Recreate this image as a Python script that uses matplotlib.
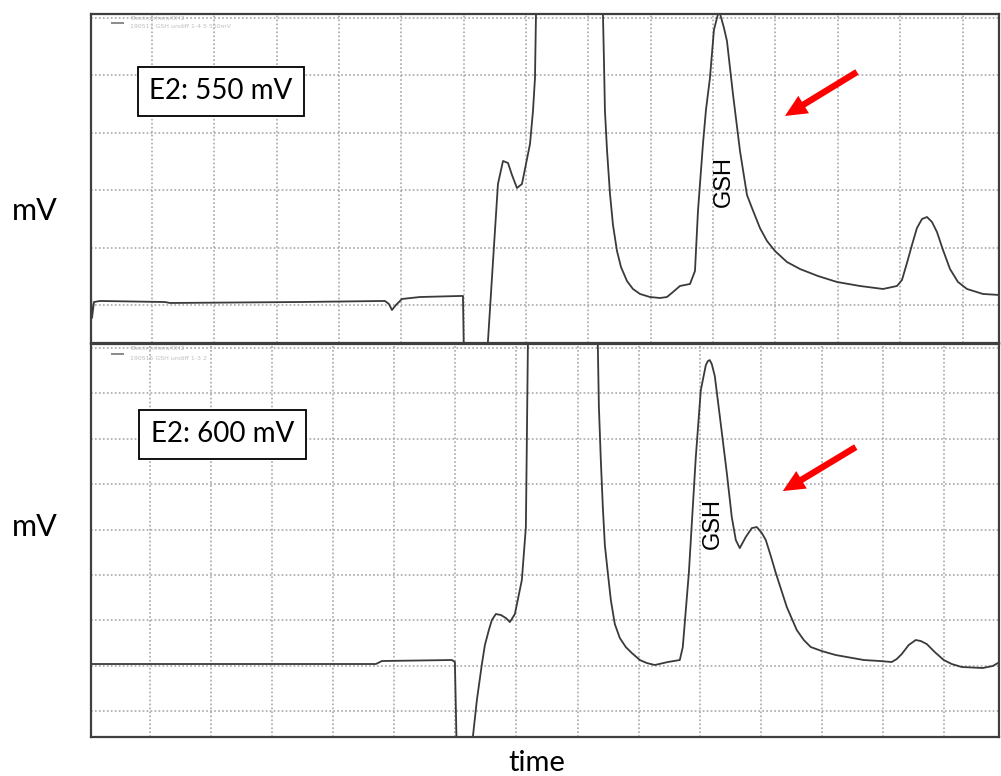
import matplotlib
matplotlib.use("Agg")
import matplotlib.pyplot as plt
from matplotlib.ticker import MultipleLocator

# ---- Chromatogram traces (time in grid divisions, signal in grid divisions) ----
time_550 = [0.022, 0.038, 0.070, 0.166, 1.208, 1.289, 3.374, 4.737, 4.801, 4.849,
            4.913, 5.010, 5.298, 5.940, 5.988, 6.004, 6.373, 6.389, 6.469, 6.549,
            6.630, 6.710, 6.774, 6.854, 6.934, 7.063, 7.111, 7.143, 7.159, 7.175,
            8.217, 8.233, 8.249, 8.265, 8.298, 8.346, 8.394, 8.458, 8.522, 8.618,
            8.714, 8.827, 8.987, 9.148, 9.260, 9.356, 9.468, 9.629, 9.709, 9.757,
            9.837, 9.885, 9.949, 10.013, 10.094, 10.174, 10.222, 10.318, 10.431,
            10.543, 10.623, 10.751, 10.864, 10.992, 11.184, 11.393, 11.681, 11.986,
            12.355, 12.724, 12.949, 13.029, 13.109, 13.189, 13.269, 13.350, 13.430,
            13.510, 13.590, 13.687, 13.799, 13.927, 14.071, 14.328, 14.600]
signal_550 = [0.157, -0.226, 0.052, 0.070, 0.052, 0.035, 0.052, 0.070, 0.017, -0.087,
              0.000, 0.105, 0.139, 0.157, 0.157, -0.958, -0.958, -0.627, 0.749, 2.108,
              2.509, 2.474, 2.265, 2.038, 2.108, 2.805, 3.380, 3.955, 5.070, 5.662,
              5.662, 5.070, 4.268, 3.380, 2.700, 1.934, 1.394, 0.941, 0.662, 0.418,
              0.279, 0.192, 0.139, 0.122, 0.139, 0.226, 0.331, 0.366, 0.592, 1.638,
              2.805, 3.397, 3.955, 4.791, 5.139, 4.826, 4.599, 3.676, 2.683,
              1.916, 1.690, 1.341, 1.115, 0.941, 0.749, 0.627, 0.505, 0.401,
              0.331, 0.279, 0.331, 0.436, 0.732, 1.045, 1.341, 1.498, 1.533,
              1.446, 1.272, 0.958, 0.627, 0.401, 0.279, 0.192, 0.174]

time_600 = [0.034, 4.699, 4.797, 5.943, 5.992, 6.025, 6.254, 6.286, 6.352, 6.434,
            6.483, 6.548, 6.597, 6.663, 6.745, 6.826, 6.892, 6.974, 7.088, 7.154,
            7.170, 7.187, 7.195, 8.324, 8.332, 8.349, 8.381, 8.414, 8.447, 8.496,
            8.545, 8.610, 8.692, 8.790, 8.889, 9.020, 9.134, 9.265, 9.478, 9.674,
            9.723, 9.822, 9.936, 10.018, 10.100, 10.133, 10.165, 10.198, 10.247,
            10.329, 10.444, 10.525, 10.591, 10.656, 10.754, 10.853, 10.935, 11.017,
            11.082, 11.164, 11.246, 11.426, 11.589, 11.704, 11.818, 11.998, 12.227,
            12.686, 12.948, 13.144, 13.226, 13.308, 13.422, 13.537, 13.619, 13.717,
            13.848, 13.995, 14.126, 14.290, 14.633, 14.797, 14.911]
signal_600 = [1.036, 1.036, 1.102, 1.124, 1.080, -1.080, -1.080, -0.573, 0.242, 1.036,
              1.455, 1.785, 2.006, 2.138, 2.116, 2.050, 1.961, 2.138, 2.887, 4.055,
              5.972, 8.066, 8.617, 8.617, 8.066, 6.722, 5.532, 4.496, 3.658, 3.041,
              2.446, 1.917, 1.609, 1.410, 1.278, 1.124, 1.058, 1.014, 1.080, 1.124,
              1.410, 3.041, 5.598, 7.074, 7.625, 7.714, 7.736, 7.647, 7.383,
              6.501, 5.245, 4.275, 3.769, 3.592, 3.835, 4.033, 4.055, 3.923,
              3.769, 3.416, 3.041, 2.292, 1.785, 1.565, 1.410, 1.322, 1.234,
              1.124, 1.102, 1.080, 1.146, 1.256, 1.455, 1.565, 1.543, 1.477,
              1.300, 1.124, 1.036, 0.970, 0.948, 0.992, 1.080]

panel_labels = ["E2: 550 mV", "E2: 600 mV"]
legend_lines = [["Electrochem/CH2", "190517 GSH undiff 1-4 5 550mV"],
                ["Electrochem/CH2", "190515 GSH undiff 1-3 2"]]
peak_name = "GSH"
peak_pos = [(10.174, 2.160), (10.214, 4.143)]
arrow_tail = [(12.307, 4.059), (12.555, 5.818)]
arrow_tip = [(11.152, 3.293), (11.360, 4.848)]

TRACE = "#3a3a3a"
FRAME = "#3f3f3f"
GRID = "#a0a0a0"

fig = plt.figure(figsize=(10.01, 7.76), dpi=100)
fig.patch.set_facecolor("white")

ax_top = fig.add_axes([0.0909, 0.5580, 0.9071, 0.4240])
ax_bot = fig.add_axes([0.0909, 0.05026, 0.9071, 0.5064])

panels = [
    (ax_top, time_550, signal_550, (0.022, 14.585), (-0.662, 5.07)),
    (ax_bot, time_600, signal_600, (0.034, 14.90), (-0.573, 8.09)),
]

for i, (ax, t, s, xl, yl) in enumerate(panels):
    ax.set_xlim(*xl)
    ax.set_ylim(*yl)
    ax.xaxis.set_major_locator(MultipleLocator(1))
    ax.yaxis.set_major_locator(MultipleLocator(1))
    ax.grid(True, color=GRID, linewidth=1.1, linestyle=(0, (1.1, 1.5)))
    ax.set_axisbelow(True)
    ax.tick_params(left=False, bottom=False, labelleft=False, labelbottom=False)
    for sp in ax.spines.values():
        sp.set_color(FRAME)
        sp.set_linewidth(1.6)

    ax.plot(t, s, color=TRACE, linewidth=1.3, solid_joinstyle="round")

    # faint instrument legend in the corner
    ly = 0.9726 if i == 0 else 0.9746
    ax.plot([0.0231, 0.0352], [ly, ly], transform=ax.transAxes, color="#8a8a8a",
            linewidth=1.4)
    ax.text(0.043, ly + 0.016, legend_lines[i][0], transform=ax.transAxes,
            fontsize=4.5, color="#bdbdbd", va="center", ha="left")
    ax.text(0.043, ly - 0.012, legend_lines[i][1], transform=ax.transAxes,
            fontsize=4.5, color="#bdbdbd", va="center", ha="left")

    # condition label box
    bx = 0.143 if i == 0 else 0.145
    by = 0.765 if i == 0 else 0.77
    ax.text(bx, by, panel_labels[i], transform=ax.transAxes, fontsize=20,
            family="Lato", ha="center", va="center", color="black",
            bbox=dict(boxstyle="square,pad=0.42", facecolor="white",
                      edgecolor="black", linewidth=1.3))

    # peak name
    ax.text(*peak_pos[i], peak_name, rotation=90, fontsize=17,
            family="Liberation Sans", ha="center", va="center", color="black")

    # red arrow pointing at the peak tail
    ax.annotate("", xy=arrow_tip[i], xytext=arrow_tail[i],
                arrowprops=dict(arrowstyle="simple,head_width=0.7,head_length=0.75,tail_width=0.22",
                                mutation_scale=21, color="#ff0000", lw=0,
                                shrinkA=0, shrinkB=0))

fig.text(35 / 1001, 1 - 211 / 776, "mV", fontsize=22, family="Lato",
         ha="center", va="center")
fig.text(35 / 1001, 1 - 527 / 776, "mV", fontsize=22, family="Lato",
         ha="center", va="center")
fig.text(537 / 1001, 1 - 763 / 776, "time", fontsize=21, family="Lato",
         ha="center", va="center")

fig.savefig("out.png", dpi=100, facecolor="white")
